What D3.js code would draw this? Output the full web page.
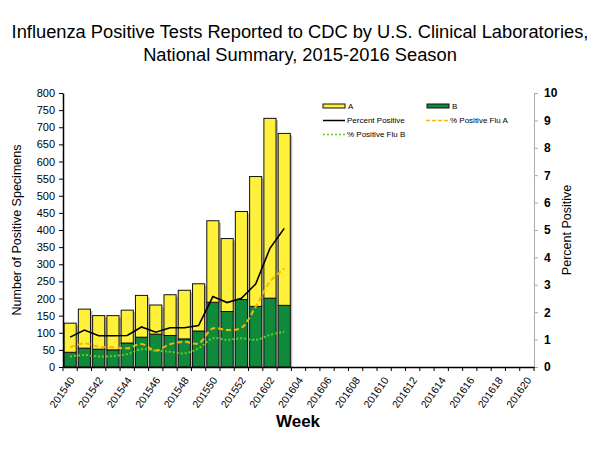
<!DOCTYPE html>
<html>
<head>
<meta charset="utf-8">
<script src="https://cdn.jsdelivr.net/npm/d3@7"></script>
<style>
  body { margin: 0; background: #fff; }
  text { font-family: "Liberation Sans", Arial, sans-serif; }
</style>
</head>
<body>
<div id="chart"></div>
<script>
// weeks on the x axis (2015 wk40 .. 2016 wk20)
var weeks = ["201540","201541","201542","201543","201544","201545","201546","201547","201548","201549",
             "201550","201551","201552","201601","201602","201603","201604","201605","201606","201607",
             "201608","201609","201610","201611","201612","201613","201614","201615","201616","201617",
             "201618","201619","201620"];
var fluA = [85, 114, 98, 100, 96, 122, 85, 119, 142, 138, 238, 213, 257, 379, 525, 502];
var fluB = [43, 55, 52, 50, 70, 87, 96, 92, 82, 105, 189, 162, 197, 177, 201, 180];
var pctPos = [1.09, 1.35, 1.14, 1.14, 1.15, 1.46, 1.27, 1.43, 1.43, 1.51, 2.57, 2.35, 2.51, 3.03, 4.33, 5.06];
var pctA = [0.72, 0.86, 0.74, 0.72, 0.68, 0.84, 0.60, 0.83, 0.92, 0.86, 1.41, 1.35, 1.43, 2.20, 3.11, 3.60];
var pctB = [0.38, 0.44, 0.38, 0.40, 0.47, 0.65, 0.60, 0.56, 0.50, 0.68, 1.05, 0.99, 1.05, 0.99, 1.17, 1.29];
var leftTicks = d3.range(0, 801, 50);
var rightTicks = d3.range(0, 11, 1);

var W = 600, H = 450;
var m = {left: 63, right: 66, top: 93, bottom: 83};

var svg = d3.select("#chart").append("svg")
    .attr("width", W)
    .attr("height", H);

var x = d3.scaleBand()
    .domain(weeks)
    .range([m.left, W - m.right])
    .paddingInner(0.15)
    .paddingOuter(0.075);
var y = d3.scaleLinear().domain([0, 800]).range([H - m.bottom, m.top]);
var y2 = d3.scaleLinear().domain([0, 10]).range([H - m.bottom, m.top]);

// title
svg.append("text")
    .attr("x", 300).attr("y", 38)
    .attr("text-anchor", "middle")
    .style("font-size", "18.3px")
    .text("Influenza Positive Tests Reported to CDC by U.S. Clinical Laboratories,");
svg.append("text")
    .attr("x", 300).attr("y", 61)
    .attr("text-anchor", "middle")
    .style("font-size", "18.3px")
    .text("National Summary, 2015-2016 Season");

var rows = fluA.map(function(a, i) {
  return {week: weeks[i], a: a, b: fluB[i]};
});

// bar shadows
svg.append("g").selectAll("rect")
    .data(rows)
  .enter().append("rect")
    .attr("x", function(d) { return x(d.week) + 2; })
    .attr("y", function(d) { return y(d.a + d.b) + 2; })
    .attr("width", x.bandwidth())
    .attr("height", function(d) { return y(0) - y(d.a + d.b) - 2; })
    .attr("fill", "#bbb");

var bars = svg.append("g");
bars.selectAll("rect.b")
    .data(rows)
  .enter().append("rect")
    .attr("class", "b")
    .attr("x", function(d) { return x(d.week); })
    .attr("y", function(d) { return y(d.b); })
    .attr("width", x.bandwidth())
    .attr("height", function(d) { return y(0) - y(d.b); })
    .attr("fill", "#0e8a3a")
    .attr("stroke", "#111")
    .attr("stroke-width", 1);
bars.selectAll("rect.a")
    .data(rows)
  .enter().append("rect")
    .attr("class", "a")
    .attr("x", function(d) { return x(d.week); })
    .attr("y", function(d) { return y(d.a + d.b); })
    .attr("width", x.bandwidth())
    .attr("height", function(d) { return y(d.b) - y(d.a + d.b); })
    .attr("fill", "#fff03a")
    .attr("stroke", "#111")
    .attr("stroke-width", 1);

// lines
function cx(i) { return x(weeks[i]) + x.bandwidth() / 2; }
var lineStraight = d3.line()
    .x(function(d, i) { return cx(i); })
    .y(function(d) { return y2(d); });
var lineSmooth = d3.line()
    .x(function(d, i) { return cx(i); })
    .y(function(d) { return y2(d); })
    .curve(d3.curveCatmullRom);

svg.append("path")
    .attr("d", lineSmooth(pctB))
    .attr("fill", "none")
    .attr("stroke", "#66cc22")
    .attr("stroke-width", 2)
    .attr("stroke-dasharray", "2,2");
svg.append("path")
    .attr("d", lineSmooth(pctA))
    .attr("fill", "none")
    .attr("stroke", "#f5b800")
    .attr("stroke-width", 2)
    .attr("stroke-dasharray", "5,3");
svg.append("path")
    .attr("d", lineStraight(pctPos))
    .attr("fill", "none")
    .attr("stroke", "#000")
    .attr("stroke-width", 1.6);

// left axis
var gl = svg.append("g")
    .attr("transform", "translate(" + m.left + ",0)")
    .call(d3.axisLeft(y).tickValues(leftTicks).tickSize(4).tickSizeOuter(0));
gl.select(".domain").attr("stroke", "#000").attr("stroke-width", 1.5);
gl.selectAll("text").style("font-size", "11px").attr("fill", "#000").attr("dx", "-1");

// right axis
var gr = svg.append("g")
    .attr("transform", "translate(" + (W - m.right) + ",0)")
    .call(d3.axisRight(y2).tickValues(rightTicks).tickSize(4).tickSizeOuter(0));
gr.select(".domain").attr("stroke", "#aaa");
gr.selectAll(".tick line").attr("stroke", "#aaa");
gr.selectAll("text").style("font-size", "12px").style("font-weight", "bold").attr("fill", "#000").attr("dx", "3");

// bottom axis
var gb = svg.append("g")
    .attr("transform", "translate(0," + (H - m.bottom) + ")")
    .call(d3.axisBottom(x).tickSize(0).tickSizeOuter(0)
      .tickFormat(function(d, i) { return i % 2 === 0 ? d : ""; }));
gb.select(".domain").attr("stroke", "#000").attr("stroke-width", 1.5);
gb.selectAll("text")
    .style("font-size", "10.5px")
    .attr("fill", "#000")
    .attr("text-anchor", "end")
    .attr("x", 0).attr("y", 0)
    .attr("dx", 0)
    .attr("dy", "0.35em")
    .attr("transform", "translate(2,11) rotate(-55)");
// tick marks at band boundaries
var step = x.step();
gb.selectAll("line.bt")
    .data(weeks.concat(["end"]))
  .enter().append("line")
    .attr("class", "bt")
    .attr("x1", function(d, i) { return m.left + i * step; })
    .attr("x2", function(d, i) { return m.left + i * step; })
    .attr("y1", 0).attr("y2", 4)
    .attr("stroke", "#000");

// axis titles
svg.append("text")
    .attr("transform", "translate(21," + ((H - m.bottom + m.top) / 2) + ") rotate(-90)")
    .attr("text-anchor", "middle")
    .style("font-size", "12.5px")
    .text("Number of Positive Specimens");
svg.append("text")
    .attr("transform", "translate(571," + ((H - m.bottom + m.top) / 2) + ") rotate(-90)")
    .attr("text-anchor", "middle")
    .style("font-size", "12.5px")
    .text("Percent Positive");
svg.append("text")
    .attr("x", 298).attr("y", 427)
    .attr("text-anchor", "middle")
    .style("font-size", "17px")
    .style("font-weight", "bold")
    .text("Week");

// legend
var leg = svg.append("g").style("font-size", "8px");
leg.append("rect").attr("x", 323).attr("y", 104).attr("width", 22).attr("height", 4)
    .attr("fill", "#fff03a").attr("stroke", "#111");
leg.append("text").attr("x", 348).attr("y", 109).text("A");
leg.append("rect").attr("x", 427).attr("y", 104).attr("width", 22).attr("height", 4)
    .attr("fill", "#0e8a3a").attr("stroke", "#111");
leg.append("text").attr("x", 452).attr("y", 109).text("B");
leg.append("line").attr("x1", 323).attr("x2", 345).attr("y1", 120.5).attr("y2", 120.5)
    .attr("stroke", "#000").attr("stroke-width", 1.5);
leg.append("text").attr("x", 347).attr("y", 123).text("Percent Positive");
leg.append("line").attr("x1", 426).attr("x2", 448).attr("y1", 120.5).attr("y2", 120.5)
    .attr("stroke", "#f5b800").attr("stroke-width", 1.5).attr("stroke-dasharray", "4,2");
leg.append("text").attr("x", 450).attr("y", 123).text("% Positive Flu A");
leg.append("line").attr("x1", 323).attr("x2", 345).attr("y1", 134.5).attr("y2", 134.5)
    .attr("stroke", "#66cc22").attr("stroke-width", 1.5).attr("stroke-dasharray", "2,2");
leg.append("text").attr("x", 347).attr("y", 137).text("% Positive Flu B");
</script>
</body>
</html>
